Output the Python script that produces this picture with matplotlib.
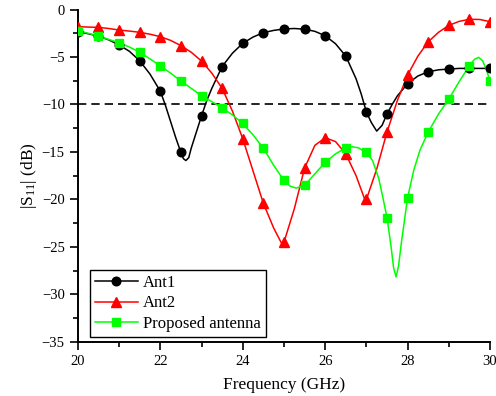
import matplotlib
matplotlib.use("Agg")
import matplotlib.pyplot as plt
from matplotlib.ticker import MultipleLocator

plt.rcParams['font.family'] = ['Liberation Serif', 'DejaVu Serif']
plt.rcParams['mathtext.fontset'] = 'custom'
plt.rcParams['mathtext.rm'] = 'Liberation Serif'
plt.rcParams['mathtext.it'] = 'Liberation Serif:italic'

# sampled points (markers, every 0.5 GHz)
freq_markers = [20, 20.5, 21, 21.5, 22, 22.5, 23, 23.5, 24, 24.5, 25,
                25.5, 26, 26.5, 27, 27.5, 28, 28.5, 29, 29.5, 30]
ant1_markers = [-2.34, -2.8, -3.74, -5.4, -8.6, -15.05, -11.2, -6.0, -3.56, -2.44, -2.05,
                -2.07, -2.76, -4.9, -10.8, -11.0, -7.8, -6.55, -6.27, -6.2, -6.2]
ant2_markers = [-1.8, -1.88, -2.16, -2.4, -2.86, -3.8, -5.43, -8.3, -13.6, -20.4, -24.5,
                -16.7, -13.5, -15.2, -20.0, -12.9, -6.9, -3.4, -1.67, -1.03, -1.28]
prop_markers = [-2.23, -2.8, -3.5, -4.5, -5.92, -7.53, -9.08, -10.35, -12.0, -14.6, -18.0,
                -18.5, -16.1, -14.56, -15.05, -21.9, -19.8, -12.9, -9.43, -5.9, -7.53]

# curves (denser)
ant1_f = [20, 20.25, 20.5, 20.75, 21, 21.25, 21.5, 21.75, 22, 22.125, 22.25, 22.375, 22.5,
          22.56, 22.62, 22.69, 22.75, 22.875, 23, 23.125, 23.25, 23.5, 23.75, 24, 24.25,
          24.5, 24.75, 25, 25.25, 25.5, 25.75, 26, 26.25, 26.5, 26.75, 26.875, 27, 27.12,
          27.25, 27.38, 27.5, 27.625, 27.75, 28, 28.25, 28.5, 28.75, 29, 29.25, 29.5, 29.75, 30]
ant1_db = [-2.34, -2.55, -2.8, -3.2, -3.74, -4.4, -5.4, -6.8, -8.6, -10.1, -11.8, -13.5, -15.05,
           -15.7, -15.9, -15.6, -14.6, -12.9, -11.2, -9.6, -8.3, -6.0, -4.6, -3.56, -2.9,
           -2.44, -2.2, -2.05, -2.0, -2.07, -2.3, -2.76, -3.6, -4.9, -7.3, -8.9, -10.8, -11.9,
           -12.8, -12.2, -11.0, -10.0, -9.1, -7.8, -7.0, -6.55, -6.35, -6.27, -6.2, -6.2, -6.2, -6.2]

ant2_f = [20, 20.25, 20.5, 20.75, 21, 21.25, 21.5, 21.75, 22, 22.25, 22.5, 22.75, 23, 23.25,
          23.5, 23.75, 24, 24.25, 24.5, 24.75, 24.94, 25, 25.25, 25.5, 25.75, 26, 26.25, 26.5,
          26.75, 26.97, 27, 27.25, 27.5, 27.75, 28, 28.25, 28.5, 28.75, 29, 29.25, 29.5, 29.75, 30]
ant2_db = [-1.8, -1.85, -1.88, -2.0, -2.16, -2.27, -2.4, -2.6, -2.86, -3.25, -3.8, -4.5, -5.43, -6.7,
           -8.3, -10.7, -13.6, -17.0, -20.4, -23.0, -24.6, -24.5, -21.0, -16.7, -14.3, -13.5, -13.9, -15.2,
           -17.5, -20.1, -20.0, -16.8, -12.9, -9.6, -6.9, -4.9, -3.4, -2.4, -1.67, -1.25, -1.03, -1.05, -1.28]

prop_f = [20, 20.25, 20.5, 20.75, 21, 21.25, 21.5, 21.75, 22, 22.25, 22.5, 22.75, 23, 23.25,
          23.5, 23.75, 24, 24.25, 24.5, 24.75, 25, 25.15, 25.3, 25.5, 25.75, 26, 26.25, 26.5,
          26.65, 26.8, 27, 27.15, 27.3, 27.4, 27.5, 27.6, 27.66, 27.72, 27.78, 27.85, 28, 28.15,
          28.3, 28.5, 28.75, 29, 29.25, 29.5, 29.62, 29.72, 29.82, 29.9, 30]
prop_db = [-2.23, -2.5, -2.8, -3.15, -3.5, -3.95, -4.5, -5.2, -5.92, -6.7, -7.53, -8.3, -9.08, -9.7,
           -10.35, -11.1, -12.0, -13.2, -14.6, -16.4, -18.0, -18.6, -18.8, -18.5, -17.3, -16.1, -15.2, -14.56,
           -14.45, -14.55, -15.05, -15.9, -17.8, -19.8, -21.9, -25.0, -27.2, -28.15, -27.0, -24.5, -19.8, -16.9,
           -14.8, -12.9, -11.0, -9.43, -7.6, -5.9, -5.25, -5.04, -5.4, -6.2, -7.53]

threshold = -10

fig = plt.figure(figsize=(4.96, 3.96), dpi=100)
ax = fig.add_axes([0.157, 0.1364, 0.831, 0.8396])

ax.axhline(threshold, color='black', lw=1.2, ls=(0, (5, 3)), zorder=1)

series = [
    (ant1_f, ant1_db, ant1_markers, 'black', 'o', 6.2, 'Ant1'),
    (ant2_f, ant2_db, ant2_markers, '#ff0000', '^', 6.8, 'Ant2'),
    (prop_f, prop_db, prop_markers, '#00ff00', 's', 5.2, 'Proposed antenna'),
]
handles = []
for f, db, mk, col, m, ms, lab in series:
    ax.plot(f, db, color=col, lw=1.1, zorder=2)
    ax.plot(freq_markers, mk, ls='none', marker=m, ms=ms, color=col, zorder=3)
    h, = ax.plot([], [], color=col, lw=1.1, marker=m, ms=ms, label=lab)
    handles.append(h)

ax.set_xlim(20, 30)
ax.set_ylim(-35, 0)
ax.xaxis.set_major_locator(MultipleLocator(2))
ax.xaxis.set_minor_locator(MultipleLocator(1))
ax.yaxis.set_major_locator(MultipleLocator(5))
ax.yaxis.set_minor_locator(MultipleLocator(2.5))
ax.tick_params(which='major', direction='out', length=6, width=1.2, labelsize=10.5)
ax.tick_params(which='minor', direction='out', length=3.5, width=1.2)
ax.spines['top'].set_visible(False)
ax.spines['right'].set_visible(False)
ax.spines['left'].set_linewidth(1.4)
ax.spines['bottom'].set_linewidth(1.4)

ax.set_xlabel('Frequency (GHz)', fontsize=12.5, labelpad=6)
ax.set_ylabel('|S$_{11}$| (dB)', fontsize=12.5, labelpad=2)

leg = ax.legend(handles=handles, loc='lower left', bbox_to_anchor=(0.029, 0.016),
                borderaxespad=0, fontsize=12, frameon=True, fancybox=False,
                edgecolor='black', framealpha=1, handlelength=2.6, handletextpad=0.3,
                labelspacing=0.25, borderpad=0.3)
leg.get_frame().set_linewidth(1.0)

fig.savefig('out.png', dpi=100)
